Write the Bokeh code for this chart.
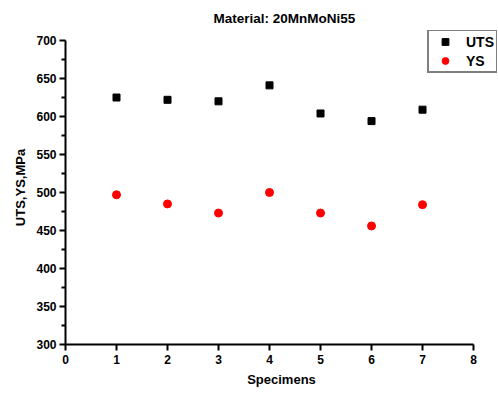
from bokeh.plotting import figure
from bokeh.models import Range1d, FixedTicker, Legend, LegendItem
from bokeh.embed import file_html
from bokeh.resources import INLINE

specimens = [1, 2, 3, 4, 5, 6, 7]
uts = [625, 622, 620, 641, 604, 594, 609]
ys = [497, 485, 473, 500, 473, 456, 484]
x_ticks = [0, 1, 2, 3, 4, 5, 6, 7, 8]
y_ticks = [300, 350, 400, 450, 500, 550, 600, 650, 700]
y_minor = [325, 375, 425, 475, 525, 575, 625, 675]

FONT = "Liberation Sans"

# frame extended past the axis ends (axes bounded to 0..8 and 300..700) so the legend fits
p = figure(width=498, height=393, output_backend="svg", toolbar_location=None,
           x_range=Range1d(0, 8.47), y_range=Range1d(300, 713.2),
           min_border_left=65, min_border_right=1, min_border_top=30, min_border_bottom=49)
p.title.text = "Material: 20MnMoNi55"
p.title.align = "left"
p.title.offset = 148
p.title.text_font = FONT
p.title.text_font_size = "13.5px"
p.title.text_font_style = "bold"
p.title.text_color = "black"
p.grid.visible = False
p.outline_line_color = None

r1 = p.scatter(specimens, uts, marker="square", size=7, color="black")
r2 = p.scatter(specimens, ys, marker="circle", size=8, color="red")

for ax in (p.xaxis[0], p.yaxis[0]):
    ax.axis_line_width = 2
    ax.axis_line_color = "black"
    ax.major_tick_line_color = "black"
    ax.minor_tick_line_color = "black"
    ax.major_tick_line_width = 2
    ax.minor_tick_line_width = 2
    ax.major_tick_out = 6
    ax.major_tick_in = 0
    ax.minor_tick_out = 4
    ax.minor_tick_in = 0
    ax.major_label_text_font = FONT
    ax.major_label_text_font_style = "bold"
    ax.major_label_text_font_size = "12px"
    ax.major_label_text_color = "black"
    ax.axis_label_text_font = FONT
    ax.axis_label_text_font_style = "bold"
    ax.axis_label_text_font_size = "13px"
    ax.axis_label_text_color = "black"

p.xaxis.bounds = (0, 8)
p.yaxis.bounds = (300, 700)
p.xaxis.ticker = FixedTicker(ticks=x_ticks)
p.yaxis.ticker = FixedTicker(ticks=y_ticks, minor_ticks=y_minor)
p.xaxis.axis_label = "Specimens"
p.yaxis.axis_label = "UTS,YS,MPa"
p.xaxis.major_label_standoff = 4
p.yaxis.major_label_standoff = 3

legend = Legend(items=[LegendItem(label="UTS", renderers=[r1]),
                       LegendItem(label="YS", renderers=[r2])],
                location=(362, 271))
legend.border_line_color = "black"
legend.border_line_width = 2
legend.label_text_font = FONT
legend.label_text_font_style = "bold"
legend.label_text_font_size = "14px"
legend.label_text_color = "black"
legend.padding = 2
legend.spacing = 2
legend.margin = 0
legend.label_height = 17
legend.glyph_height = 17
legend.glyph_width = 28
legend.label_standoff = 7
legend.background_fill_alpha = 1
p.add_layout(legend)

open("out.html", "w").write(file_html(p, INLINE))
